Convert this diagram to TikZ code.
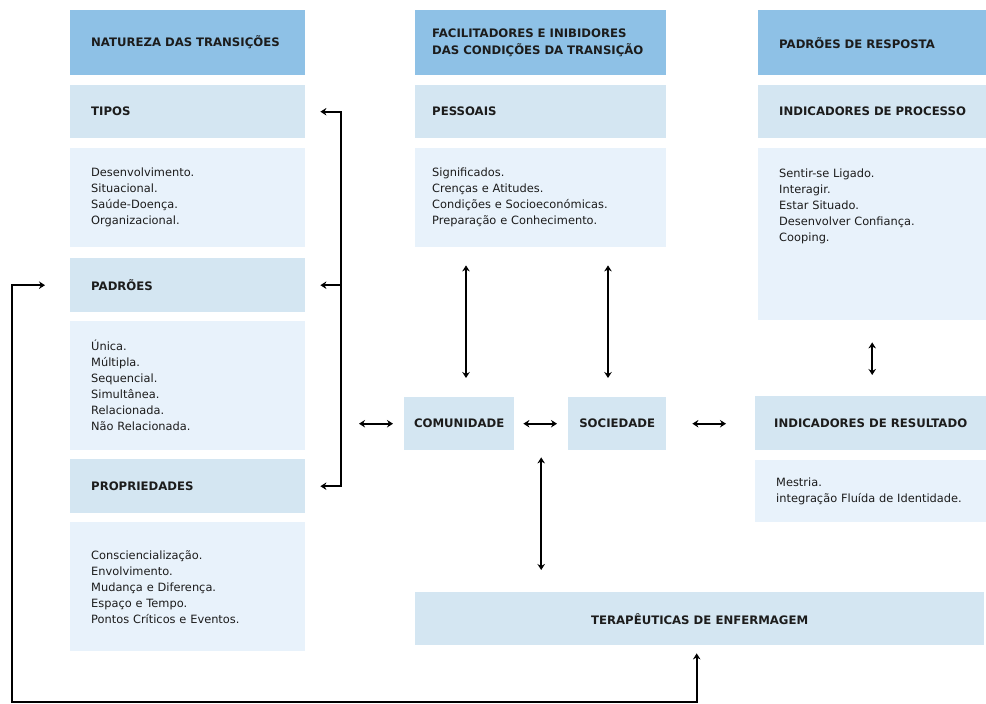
\documentclass[tikz,border=0pt]{standalone}
\usepackage{fontspec}
\setmainfont{DejaVu Sans}
\usetikzlibrary{calc,arrows.meta}
\definecolor{headblue}{RGB}{142,193,230}
\definecolor{titleblue}{RGB}{212,230,242}
\definecolor{listblue}{RGB}{232,242,251}
\definecolor{inkc}{RGB}{28,28,28}
\begin{document}
\begin{tikzpicture}[x=1pt, y=-1pt,
    box/.style={anchor=north west, inner ysep=0pt, align=left, text=inkc, font=\fontsize{11.4}{16}\selectfont},
    head/.style={box, fill=headblue, minimum height=65pt, font=\fontsize{11.7}{17}\selectfont\bfseries},
    title/.style={box, fill=titleblue, minimum height=53pt, font=\fontsize{11.7}{16}\selectfont\bfseries},
    list/.style={box, fill=listblue},
    lcol/.style={text width=193pt, inner xsep=21pt},
    mcol/.style={text width=217pt, inner xsep=17pt},
    rcol/.style={text width=186pt, inner xsep=21pt},
    cbox/.style={anchor=north west, fill=titleblue, align=center, inner sep=0pt, minimum height=53pt, text=inkc, font=\fontsize{11.7}{16}\selectfont\bfseries},
    conn/.style={line width=1.8pt, >={Stealth[length=6pt,width=7.5pt]}}]

    \useasboundingbox (0,0) rectangle (986,704);

    \node (nat) [head, lcol] at (70,10) {NATUREZA DAS TRANSIÇÕES};
    \node (tip) [title, lcol] at (70,85) {TIPOS};
    \node (tipl) [list, lcol, minimum height=99pt] at (70,148) {Desenvolvimento.\\Situacional.\\Saúde-Doença.\\Organizacional.};
    \node (pad) [title, lcol, minimum height=54pt] at (70,258) {PADRÕES};
    \node (padl) [list, lcol, minimum height=129pt] at (70,321) {Única.\\Múltipla.\\Sequencial.\\Simultânea.\\Relacionada.\\Não Relacionada.};
    \node (prop) [title, lcol, minimum height=54pt] at (70,459) {PROPRIEDADES};
    \node (propl) [list, lcol, minimum height=129pt] at (70,522) {Consciencialização.\\Envolvimento.\\Mudança e Diferença.\\Espaço e Tempo.\\Pontos Críticos e Eventos.};

    \node (fac) [head, mcol] at (415,10) {FACILITADORES E INIBIDORES\\DAS CONDIÇÕES DA TRANSIÇÃO};
    \node (pes) [title, mcol] at (415,85) {PESSOAIS};
    \node (pesl) [list, mcol, minimum height=99pt] at (415,148) {Significados.\\Crenças e Atitudes.\\Condições e Socioeconómicas.\\Preparação e Conhecimento.};
    \node (com) [cbox, minimum width=110pt] at (404,397) {COMUNIDADE};
    \node (soc) [cbox, minimum width=98pt] at (568,397) {SOCIEDADE};
    \node (ter) [cbox, minimum width=569pt] at (415,592) {TERAPÊUTICAS DE ENFERMAGEM};

    \node (resp) [head, rcol] at (758,10) {PADRÕES DE RESPOSTA};
    \node (proc) [title, rcol] at (758,85) {\mbox{INDICADORES DE PROCESSO}};
    \node (procl) [list, rcol, minimum height=172pt] at (758,148) {\parbox[c][130pt][t]{186pt}{Sentir-se Ligado.\\Interagir.\\Estar Situado.\\Desenvolver Confiança.\\Cooping.}};
    \node (res) [cbox, minimum width=231pt, minimum height=54pt] at (755,396) {INDICADORES DE RESULTADO};
    \node (resl) [list, text width=189pt, inner xsep=21pt, minimum height=62pt] at (755,460) {Mestria.\\integração Fluída de Identidade.};

    \coordinate (bk) at (341,0);
    \coordinate (pc) at (466,0);
    \coordinate (ps) at (608,0);
    \coordinate (gap) at ($(com.east)!0.5!(soc.west)$);
    \coordinate (lp) at (12,702);
    \coordinate (tb) at ([xshift=-3pt]ter.south);

    \draw [conn, <->, shorten <=15pt, shorten >=15pt] (tip.east) -- (tip.east -| bk) -- (prop.east -| bk) -- (prop.east);
    \draw [conn, ->, shorten >=15pt] (pad.east -| bk) -- (pad.east);
    \draw [conn, <->, shorten <=18pt, shorten >=11pt] (com.west -| bk) -- (com.west);
    \draw [conn, <->, shorten <=9pt, shorten >=11pt] (com.east) -- (soc.west);
    \draw [conn, <->, shorten <=26pt, shorten >=29pt] (soc.east) -- (res.west |- soc.east);
    \draw [conn, <->, shorten <=18pt, shorten >=19pt] (pc |- pesl.south) -- (pc |- com.north);
    \draw [conn, <->, shorten <=18pt, shorten >=19pt] (ps |- pesl.south) -- (ps |- soc.north);
    \draw [conn, <->, shorten <=7pt, shorten >=22pt] (gap |- com.south) -- (gap |- ter.north);
    \draw [conn, <->, shorten <=22pt, shorten >=21pt] (procl.south) -- (procl.south |- res.north);
    \draw [conn, <->, shorten <=8pt, shorten >=25pt] (tb) -- (tb |- lp) -- (lp) -- (lp |- pad.west) -- (pad.west);
\end{tikzpicture}
\end{document}
